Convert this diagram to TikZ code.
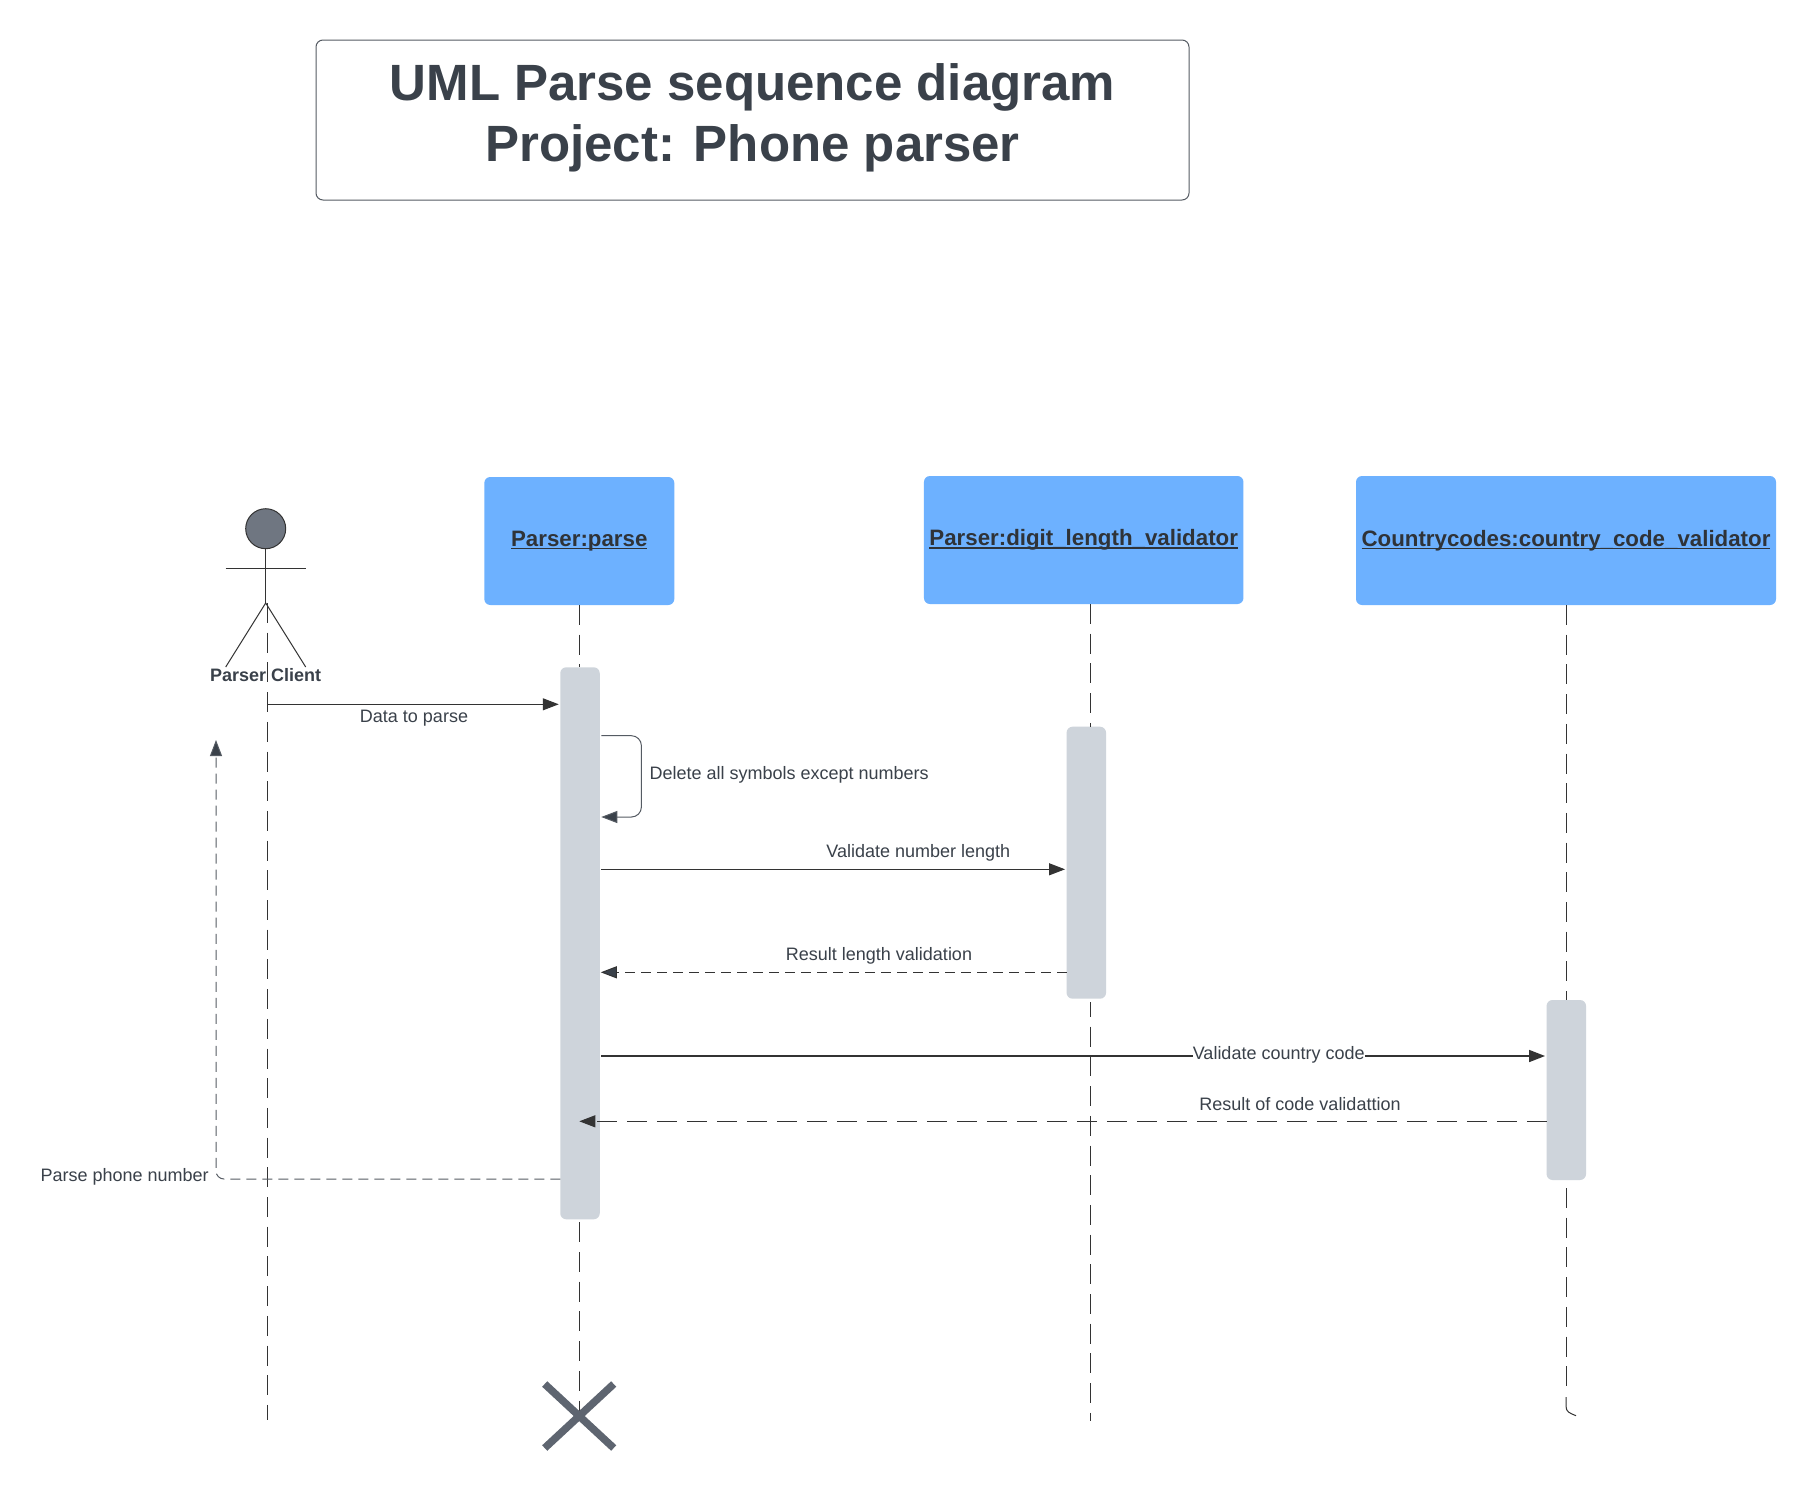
\documentclass[tikz,border=0pt]{standalone}
\usepackage{fontspec}
\setmainfont{Liberation Sans}
\usetikzlibrary{arrows.meta,shapes.geometric,calc}
\definecolor{ink}{HTML}{3A414A}
\definecolor{boxblue}{HTML}{6DB1FF}
\definecolor{actgrey}{HTML}{CED4DB}
\definecolor{headgrey}{HTML}{6F7681}
\definecolor{crossgrey}{HTML}{5E6570}
\definecolor{boxink}{HTML}{2F3338}
\definecolor{lineink}{HTML}{333333}
\definecolor{softline}{HTML}{555B63}
\newcommand{\ulbf}[1]{\setbox0=\hbox{#1}\rlap{\rule[-2.8pt]{\wd0}{1.5pt}}\box0}
\tikzset{
  objbox/.style={rectangle,fill=boxblue,rounded corners=6pt,inner sep=0pt,outer sep=0pt,text=boxink,font=\fontsize{22.3}{26}\selectfont\bfseries},
  activation/.style={rectangle,fill=actgrey,rounded corners=6pt,inner sep=0pt,outer sep=0pt,minimum width=39.5pt},
  lbl/.style={inner sep=0pt,outer sep=0pt,anchor=base,text=ink,font=\fontsize{18}{20}\selectfont},
  lifeline/.style={draw=lineink,line width=1pt,dash pattern=on 20pt off 9.7pt},
  msg/.style={draw=lineink,line width=1pt,-{Triangle[length=16pt,width=12pt]},shorten >=1.5pt},
  retshort/.style={draw=lineink,line width=1pt,dash pattern=on 10pt off 6pt,-{Triangle[length=16pt,width=12pt,fill=ink]}},
  stick/.style={draw=lineink,line width=1pt},
}
\begin{document}
\begin{tikzpicture}[x=1pt,y=-1pt]
\fill[white] (0,0) rectangle (1816,1497);
\useasboundingbox (0,0) rectangle (1816,1497);

% title
\node[draw=softline,line width=1pt,rounded corners=7pt,fill=white,inner sep=0pt,minimum width=873pt,minimum height=160pt,align=center,text=ink,font=\fontsize{51}{61.7}\selectfont\bfseries] (title) at (752.5,120) {UML Parse sequence diagram\\Project: Phone parser\rule[-15pt]{0pt}{1pt}};

% objects
\node[objbox,minimum width=190pt,minimum height=128pt] (parse) at (579.3,541) {\ulbf{Parser:parse}};
\node[objbox,minimum width=319.5pt,minimum height=128pt] (digit) at (1083.7,540) {\raisebox{1.5pt}{\ulbf{Parser:digit\_length\_validator}}};
\node[objbox,minimum width=420pt,minimum height=129pt] (country) at (1566,540.5) {\raisebox{1.5pt}{\ulbf{Countrycodes:country\_code\_validator}}};

% lifeline reference points
\coordinate (lifeC) at (267.2,603);
\coordinate (lifeCend) at (267.2,1420);
\coordinate (lifeD) at (1090.5,604);
\coordinate (lifeDmid) at (1090.5,1002);
\coordinate (lifeDend) at (1090.5,1421);
\coordinate (cross) at (579.2,1416);
\coordinate (lifeEstop) at (1566,1386.5);
\coordinate (lifeEtail) at (1566,1397);
\coordinate (lifeEcurve) at (1576,1415.7);

% activations
\node[activation,minimum height=552pt] (act1) at (580,943.3) {};
\node[activation,minimum height=272pt] (act2) at (1086.3,862.7) {};
\node[activation,minimum height=180pt] (act3) at (1566.3,1090) {};

% lifelines
\draw[lifeline] (parse.south) -- (act1.north -| parse.south);
\draw[lifeline] (lifeD) -- (lifeD |- act2.north);
\draw[lifeline] (country.south) -- (act3.north -| country.south);
\draw[lifeline] (lifeC) -- (lifeCend);
\draw[lifeline] ($(parse.south |- act1.south)+(0,3)$) -- (parse.south |- cross);
\draw[lifeline,dash phase=5pt] (lifeDmid) -- (lifeDend);
\draw[lifeline] ($(country.south |- act3.south)+(0,8)$) -- (lifeEstop);
\draw[draw=lineink,line width=1pt] (lifeEtail) -- (1566,1406) .. controls (1566,1412) and (1569.5,1413) .. (lifeEcurve);

% actor
\node[ellipse,draw=lineink,line width=1pt,fill=headgrey,inner sep=0pt,minimum width=40pt,minimum height=40pt] (head) at (265.7,528.7) {};
\coordinate (hip) at (265.7,603);
\coordinate (armL) at (225.7,568.3);
\coordinate (armR) at (305.7,568.3);
\coordinate (legL) at (225.7,667);
\coordinate (legR) at (305.7,667);
\draw[stick] (head.south) -- (hip);
\draw[stick] (armL) -- (armR);
\draw[stick] (legL) -- (hip) -- (legR);
\node[lbl,font=\fontsize{18}{20}\selectfont\bfseries] (clientlbl) at (265.7,681.7) {Parser Client};

% message levels
\coordinate (y1) at (0,704.3);
\coordinate (y2a) at (0,735.7);
\coordinate (y2b) at (0,817);
\coordinate (y3) at (0,869.3);
\coordinate (y4) at (0,972.3);
\coordinate (y5) at (0,1056);
\coordinate (y6) at (0,1121.3);
\coordinate (y7) at (0,1179);
\coordinate (selfx) at (641.4,0);
\coordinate (uptip) at (216,740);

% messages
\draw[msg] (lifeC |- y1) -- (act1.west |- y1);
\node[lbl] (l1) at (414,722.7) {Data to parse};

\draw[draw=softline,line width=1pt,rounded corners=10pt,-{Triangle[length=16pt,width=12pt,fill=ink]}] ($(act1.east |- y2a)+(1.5,0)$) -| (selfx |- y2b) -- ($(act1.east |- y2b)+(1.5,0)$);
\node[lbl,anchor=base west] (l2) at (649.6,779.3) {Delete all symbols except numbers};

\draw[msg,shorten <=1.5pt] (act1.east |- y3) -- (act2.west |- y3);
\node[lbl] (l3) at (918.3,857.3) {Validate number length};

\draw[retshort,shorten >=1pt] (act2.west |- y4) -- (act1.east |- y4);
\node[lbl] (l4) at (879,960) {Result length validation};

\draw[msg,line width=1.6pt,shorten <=1.5pt] (act1.east |- y5) -- (act3.west |- y5);
\node[lbl,fill=white] (l5) at (1278.7,1059) {Validate country code};

\draw[draw=lineink,line width=1pt,dash pattern=on 20pt off 10pt,-{Triangle[length=16pt,width=12pt]}] (act3.west |- y6) -- (parse.south |- y6);
\node[lbl] (l6) at (1300,1110) {Result of code validattion};

\draw[draw=softline,line width=1pt,dash pattern=on 10pt off 6pt,rounded corners=8pt,-{Triangle[length=16pt,width=12pt,fill=ink]}] (act1.west |- y7) -| (uptip);
\node[lbl,anchor=base west] (l7) at (40.6,1181.7) {Parse phone number};

% destruction mark
\draw[crossgrey,line width=7.5pt] ($(cross)+(-34.5,-32)$) -- ($(cross)+(34.5,32)$);
\draw[crossgrey,line width=7.5pt] ($(cross)+(34.5,-32)$) -- ($(cross)+(-34.5,32)$);
\end{tikzpicture}
\end{document}
